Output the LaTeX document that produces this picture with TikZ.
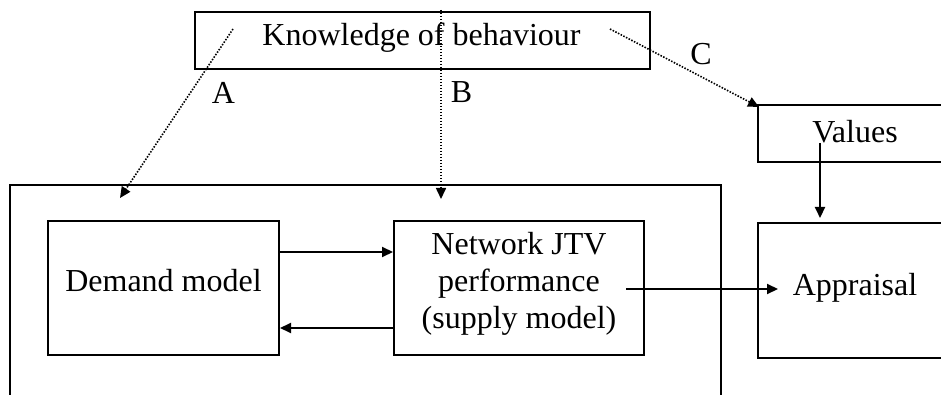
\documentclass[tikz,border=0pt]{standalone}
\usepackage{fontspec}
\setmainfont{Liberation Serif}
\usetikzlibrary{arrows.meta,calc}
\begin{document}
\begin{tikzpicture}[x=1pt,y=-1pt,
  every node/.style={font=\fontsize{32}{37}\selectfont, inner sep=0pt},
  boxst/.style={draw, line width=2pt, rectangle},
  solidarr/.style={line width=2pt, -{Triangle[length=11pt,width=10pt]}},
  dotarr/.style={line width=1.6pt, dash pattern=on 1.5pt off 1.5pt, -{Triangle[length=11pt,width=10pt]}}
]
\useasboundingbox (0,0) rectangle (941,395);
% outer frame (open at bottom)
\coordinate (ofbl) at (10,395);
\coordinate (oftl) at (10,185);
\coordinate (oftr) at (721,185);
\coordinate (ofbr) at (721,395);
\draw[line width=2pt] (ofbl) -- (oftl) -- (oftr) -- (ofbr);
% boxes
\node[boxst, minimum width=455pt, minimum height=57pt] (kb) at (422.5,40.5) {};
\node (kbt) at (421.5,38) {Knowledge of behaviour};
\node[boxst, minimum width=231pt, minimum height=134pt] (dm) at (163.5,288) {};
\node (dmt) at (163.5,281) {Demand model};
\node[boxst, minimum width=250pt, minimum height=134pt] (nw) at (519,288) {};
\node[align=center] (nwt) at (519,284) {Network JTV\\performance\\(supply model)};
\node[boxst, minimum width=196pt, minimum height=57pt] (val) at (856,133.5) {};
\node (valt) at (855,132) {Values};
\node[boxst, minimum width=196pt, minimum height=135pt] (ap) at (856,290.5) {};
\node (apt) at (855,288) {Appraisal};
% labels
\node (la) at (223.5,92.5) {A};
\node (lb) at (461.5,92.5) {B};
\node (lc) at (701,54) {C};
% arrow coordinates
\coordinate (as) at (233,29);
\coordinate (ae) at (120,198);
\coordinate (bs) at (441,10);
\coordinate (be) at (441,199);
\coordinate (cs) at (610,29);
\coordinate (ce) at (759,107);
\coordinate (vs) at (820,143);
\coordinate (ve) at (820,218);
\coordinate (ns) at (626,289);
\coordinate (ne) at (778,289);
% dotted arrows
\draw[dotarr] (as) -- (ae);
\draw[dotarr] (bs) -- (be);
\draw[dotarr] (cs) -- (ce);
% solid arrows
\draw[solidarr] (dm.east |- 0,252) -- (nw.west |- 0,252);
\draw[solidarr] (nw.west |- 0,328) -- (dm.east |- 0,328);
\draw[solidarr] (ns) -- (ne);
\draw[solidarr] (vs) -- (ve);
\end{tikzpicture}
\end{document}
